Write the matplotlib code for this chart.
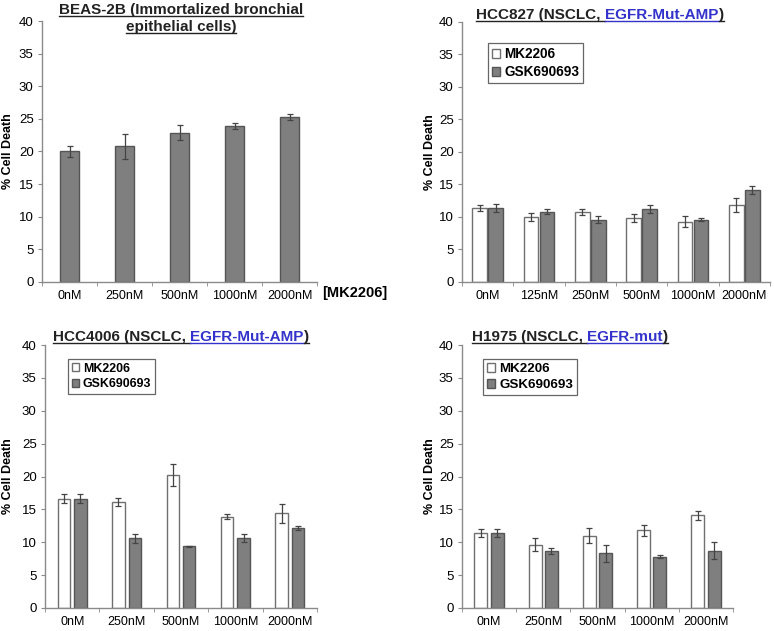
import numpy as np
import matplotlib
matplotlib.use("Agg")
import matplotlib.pyplot as plt
from matplotlib.patches import Patch

plt.rcParams['font.family'] = ['Liberation Sans', 'DejaVu Sans']

W, H = 774, 631

# ---- data ----
beas_labels = ["0nM", "250nM", "500nM", "1000nM", "2000nM"]
beas_vals = [20.0, 20.8, 22.9, 23.9, 25.3]
beas_err = [0.8, 1.9, 1.2, 0.4, 0.4]

hcc827_labels = ["0nM", "125nM", "250nM", "500nM", "1000nM", "2000nM"]
hcc827_mk = [11.4, 10.0, 10.8, 9.8, 9.3, 11.8]
hcc827_mk_err = [0.5, 0.6, 0.5, 0.6, 0.9, 1.1]
hcc827_gsk = [11.4, 10.8, 9.6, 11.2, 9.6, 14.1]
hcc827_gsk_err = [0.6, 0.4, 0.6, 0.6, 0.2, 0.6]

hcc4006_labels = ["0nM", "250nM", "500nM", "1000nM", "2000nM"]
hcc4006_mk = [16.6, 16.1, 20.2, 13.9, 14.4]
hcc4006_mk_err = [0.7, 0.6, 1.7, 0.4, 1.4]
hcc4006_gsk = [16.6, 10.6, 9.4, 10.7, 12.1]
hcc4006_gsk_err = [0.7, 0.7, 0.1, 0.6, 0.3]

h1975_labels = ["0nM", "250nM", "500nM", "1000nM", "2000nM"]
h1975_mk = [11.4, 9.6, 11.0, 11.8, 14.1]
h1975_mk_err = [0.6, 1.0, 1.1, 0.8, 0.7]
h1975_gsk = [11.4, 8.7, 8.3, 7.8, 8.7]
h1975_gsk_err = [0.6, 0.5, 1.3, 0.2, 1.3]

GRAY = "#7f7f7f"
EDGE = "#555555"
AXC = "#8a8a8a"
BLUE = "#3333cc"

fig = plt.figure(figsize=(W / 100, H / 100), dpi=100)


def add_axes(left, top, right, bottom):
    return fig.add_axes([left / W, 1 - bottom / H, (right - left) / W, (bottom - top) / H])


def style(ax, labels, px_left, px_right, ylab_x):
    n = len(labels)
    ax.set_xlim(-0.5, n - 0.5)
    ax.set_ylim(0, 40)
    ax.set_yticks(np.arange(0, 41, 5))
    ax.set_xticks(np.arange(n))
    ax.set_xticklabels(labels)
    ax.set_xticks(np.arange(-0.5, n, 1), minor=True)
    ax.tick_params(axis='x', which='major', length=0, pad=6, labelsize=9)
    ax.tick_params(axis='x', which='minor', length=3, color=AXC, direction='out')
    ax.tick_params(axis='y', length=3, color=AXC, pad=3, labelsize=9.5)
    for s in ['top', 'right']:
        ax.spines[s].set_visible(False)
    for s in ['left', 'bottom']:
        ax.spines[s].set_color(AXC)
        ax.spines[s].set_linewidth(1.0)
    ax.set_ylabel("% Cell Death", fontsize=9, fontweight='bold')
    # label anchor is the right edge of the rotated text
    ax.yaxis.set_label_coords((ylab_x - px_left) / (px_right - px_left), 0.5)
    ax.patch.set_visible(False)


def pair(ax, mk, mk_err, gsk, gsk_err, width, off):
    x = np.arange(len(mk))
    ek = dict(ecolor="#444444", elinewidth=0.9, capsize=2.5, capthick=0.9)
    ax.bar(x - off, mk, width, yerr=mk_err, color="white", edgecolor="#707070",
           linewidth=1.0, error_kw=ek, label="MK2206")
    ax.bar(x + off, gsk, width, yerr=gsk_err, color=GRAY, edgecolor=EDGE,
           linewidth=1.0, error_kw=ek, label="GSK690693")


def legend(ax, px_x, px_y, size):
    handles = [Patch(facecolor="white", edgecolor="#707070", label="MK2206"),
               Patch(facecolor=GRAY, edgecolor=EDGE, label="GSK690693")]
    leg = ax.legend(handles=handles, loc='upper left', borderaxespad=0,
                    bbox_to_anchor=(px_x / W, 1 - px_y / H), bbox_transform=fig.transFigure,
                    prop=dict(weight='bold', size=size), handlelength=0.6, handleheight=0.6,
                    handletextpad=0.3, labelspacing=0.3, borderpad=0.3, fancybox=False,
                    framealpha=1, edgecolor="#666666")
    leg.get_frame().set_linewidth(0.9)


# panel 1 : BEAS-2B
ax1 = add_axes(42, 21, 317, 282)
x = np.arange(len(beas_vals))
ax1.bar(x, beas_vals, 0.33, yerr=beas_err, color=GRAY, edgecolor=EDGE, linewidth=1.0,
        error_kw=dict(ecolor="#444444", elinewidth=0.9, capsize=2.5, capthick=0.9))
style(ax1, beas_labels, 42, 317, 14)
fig.text(322 / W, 1 - 293 / H, "[MK2206]", fontsize=10.5, fontweight='bold', va='center', ha='left')

# panel 2 : HCC827
ax2 = add_axes(462, 22, 770, 282)
pair(ax2, hcc827_mk, hcc827_mk_err, hcc827_gsk, hcc827_gsk_err, 0.29, 0.155)
style(ax2, hcc827_labels, 462, 770, 436)
legend(ax2, 488, 43, 9.8)

# panel 3 : HCC4006
ax3 = add_axes(45, 345, 317, 608)
pair(ax3, hcc4006_mk, hcc4006_mk_err, hcc4006_gsk, hcc4006_gsk_err, 0.23, 0.15)
style(ax3, hcc4006_labels, 45, 317, 14)
legend(ax3, 68, 359, 8.9)

# panel 4 : H1975
ax4 = add_axes(462, 345, 733, 608)
pair(ax4, h1975_mk, h1975_mk_err, h1975_gsk, h1975_gsk_err, 0.24, 0.15)
style(ax4, h1975_labels, 462, 733, 436)
legend(ax4, 483, 359, 9.6)

# underlined, partly blue titles
fig.canvas.draw()
renderer = fig.canvas.get_renderer()


def title(parts, cx, base):
    size = 11
    texts = []
    for s, c in parts:
        t = fig.text(0, 1 - base / H, s, color=c, fontsize=size, fontweight='bold',
                     va='baseline', ha='left')
        texts.append(t)
    widths = [t.get_window_extent(renderer).width for t in texts]
    total = sum(widths)
    left = cx - total / 2
    xpos = left
    for (s, c), t, w in zip(parts, texts, widths):
        t.set_x(xpos / W)
        fig.add_artist(plt.Line2D([xpos / W, (xpos + w) / W], [1 - (base + 2) / H] * 2,
                                  color=c, linewidth=1.0, transform=fig.transFigure))
        xpos += w


title([("BEAS-2B (Immortalized bronchial", "#222222")], 181, 14)
title([("epithelial cells)", "#222222")], 181, 31)
title([("HCC827 (NSCLC, ", "#222222"), ("EGFR-Mut-AMP", BLUE), (")", "#222222")], 600, 19)
title([("HCC4006 (NSCLC, ", "#222222"), ("EGFR-Mut-AMP", BLUE), (")", "#222222")], 181, 341)
title([("H1975 (NSCLC, ", "#222222"), ("EGFR-mut", BLUE), (")", "#222222")], 570, 341)

fig.savefig("out.png", dpi=100)
